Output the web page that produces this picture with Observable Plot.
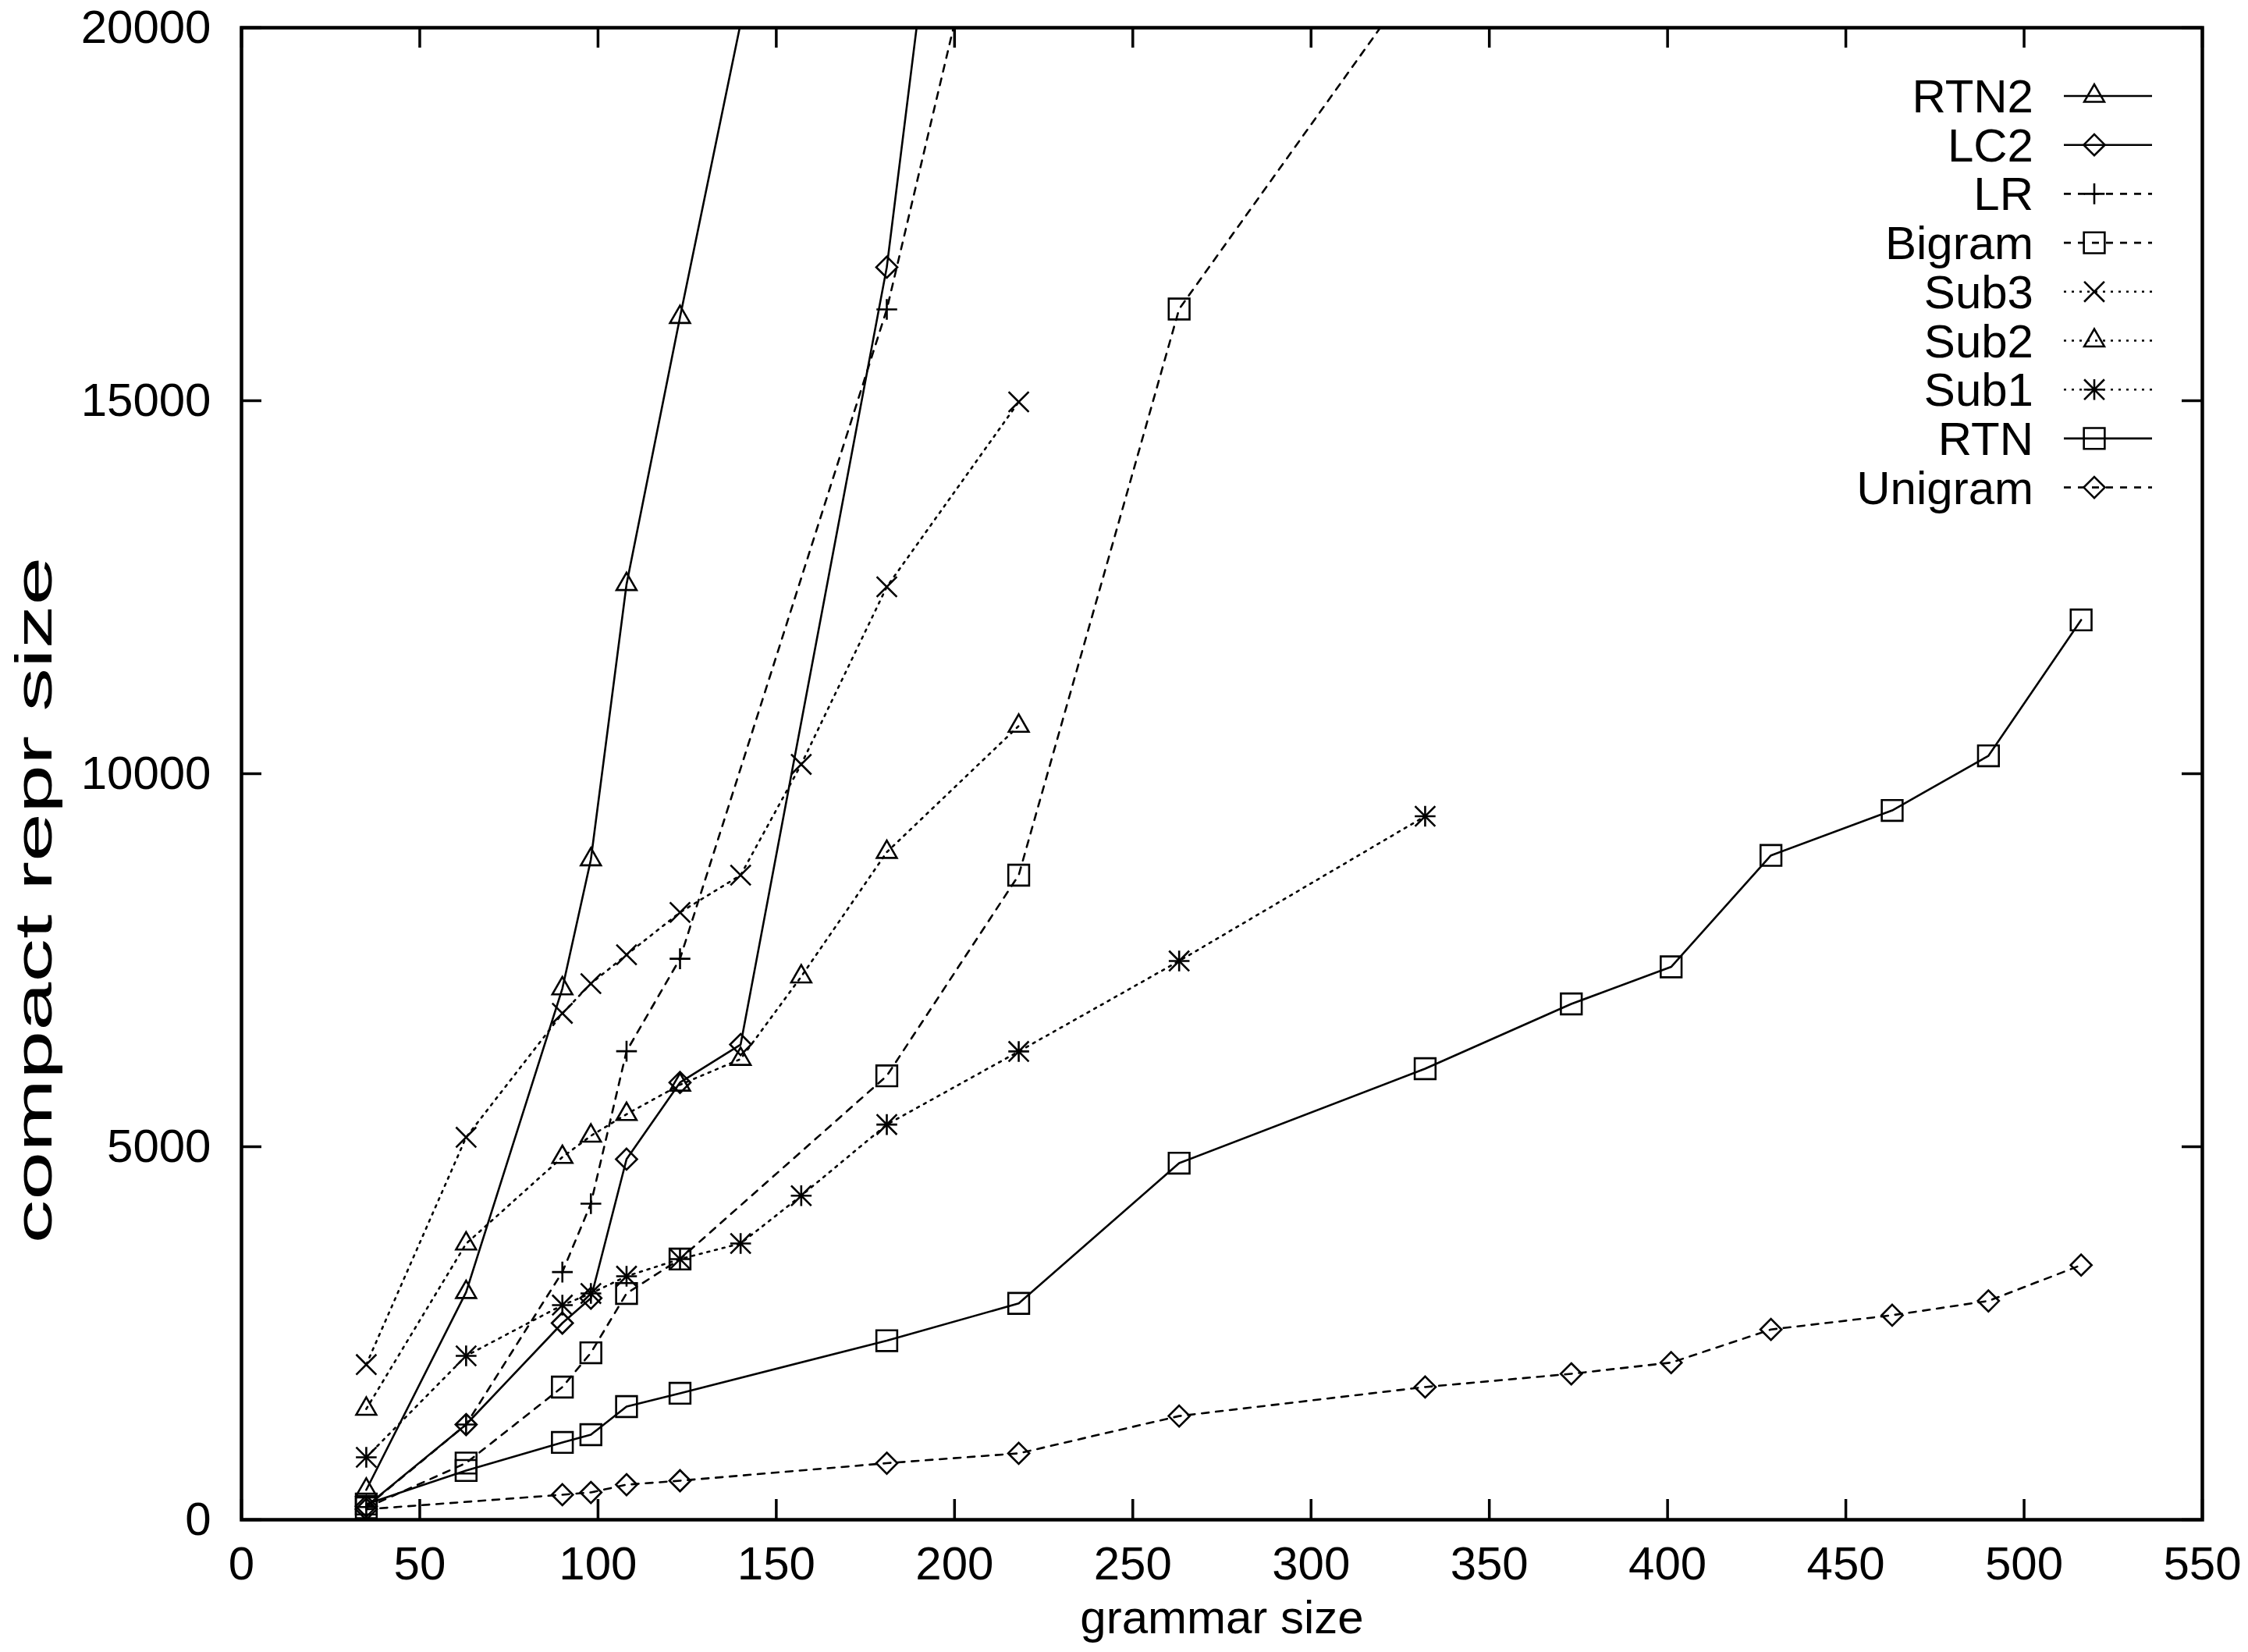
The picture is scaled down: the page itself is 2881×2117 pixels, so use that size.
<!DOCTYPE html>
<html><head><meta charset="utf-8">
<script src="https://cdn.jsdelivr.net/npm/d3@7"></script>
<script src="https://cdn.jsdelivr.net/npm/@observablehq/plot@0.6"></script>
<style>html,body{margin:0;padding:0;background:#fff;}</style>
</head><body><div id="chart"></div>
<script>
// ---- data (grammar size -> compact representation size) ----
const rtn2X = [35, 63, 90, 98, 108, 123, 157];
const rtn2Y = [400, 3050, 7120, 8850, 12540, 16120, 24000];
const lc2X = [35, 63, 90, 98, 108, 123, 140, 181, 218];
const lc2Y = [180, 1276, 2636, 2970, 4833, 5861, 6370, 16790, 31000];
const lrX = [35, 63, 90, 98, 108, 123, 181, 218];
const lrY = [170, 1276, 3320, 4236, 6280, 7520, 16224, 23700];
const bigramX = [35, 63, 90, 98, 108, 123, 181, 218, 263, 332];
const bigramY = [160, 760, 1778, 2238, 3033, 3494, 5950, 8640, 16229, 20840];
const sub3X = [35, 63, 90, 98, 108, 123, 140, 157, 181, 218];
const sub3Y = [2080, 5126, 6788, 7186, 7573, 8141, 8640, 10125, 12505, 14984];
const sub2X = [35, 63, 90, 98, 108, 123, 140, 157, 181, 218];
const sub2Y = [1485, 3700, 4860, 5146, 5436, 5830, 6175, 7280, 8949, 10640];
const sub1X = [35, 63, 90, 98, 108, 123, 140, 157, 181, 218, 263, 332];
const sub1Y = [837, 2197, 2877, 3033, 3264, 3494, 3703, 4344, 5297, 6277, 7490, 9430];
const rtnX = [35, 63, 90, 98, 108, 123, 181, 218, 263, 332, 373, 401, 429, 463, 490, 516];
const rtnY = [210, 660, 1036, 1140, 1517, 1695, 2400, 2900, 4780, 6046, 6914, 7411, 8905, 9508, 10240, 12061];
const unigramX = [35, 90, 98, 108, 123, 181, 218, 263, 332, 373, 401, 429, 463, 490, 516];
const unigramY = [140, 335, 366, 470, 523, 758, 890, 1390, 1779, 1956, 2106, 2550, 2741, 2933, 3413];

const seriesNames = ["RTN2", "LC2", "LR", "Bigram", "Sub3", "Sub2", "Sub1", "RTN", "Unigram"];
const xTicks = [0, 50, 100, 150, 200, 250, 300, 350, 400, 450, 500, 550];
const yTicks = [0, 5000, 10000, 15000, 20000];
const xLabel = "grammar size";
const yLabel = "compact repr size";

// ---- styles ----
const lineKind = ["solid", "solid", "dashed", "dashed", "dotted", "dotted", "dotted", "solid", "dashed"];
const symbolsOf = [["triangle2"], ["diamond2"], ["plus"], ["square2"], ["times"], ["triangle2"], ["plus", "times"], ["square2"], ["diamond2"]];
const dashes = {solid: null, dashed: "9,9", dotted: "3,7"};
const symR = {triangle2: 12.3, diamond2: 12.2, square2: 17, times: 11.8, plus: 8.6};
const d3Sym = {triangle2: d3.symbolTriangle2, diamond2: d3.symbolDiamond2, square2: d3.symbolSquare2, times: d3.symbolTimes, plus: d3.symbolPlus};
const SW = 2.6;

const allX = [rtn2X, lc2X, lrX, bigramX, sub3X, sub2X, sub1X, rtnX, unigramX];
const allY = [rtn2Y, lc2Y, lrY, bigramY, sub3Y, sub2Y, sub1Y, rtnY, unigramY];

const W = 2881, H = 2117;
const mL = 309, mR = 59, mT = 35, mB = 170;
const plotW = W - mL - mR, plotH = H - mT - mB;

const marks = [];
seriesNames.forEach((name, i) => {
  const data = allX[i].map((x, j) => ({x, y: allY[i][j]}));
  marks.push(Plot.line(data, {x: "x", y: "y", stroke: "black", strokeWidth: SW, strokeDasharray: dashes[lineKind[i]], clip: true}));
  for (const s of symbolsOf[i]) {
    marks.push(Plot.dot(data, {x: "x", y: "y", symbol: s, r: symR[s], stroke: "black", fill: "none", strokeWidth: SW, clip: true}));
  }
});

// inward ticks on all four sides
marks.push(Plot.ruleX(xTicks, {x: d => d, insetTop: plotH - 26, stroke: "black", strokeWidth: 3.5}));
marks.push(Plot.ruleX(xTicks, {x: d => d, insetBottom: plotH - 26, stroke: "black", strokeWidth: 3.5}));
marks.push(Plot.ruleY(yTicks, {y: d => d, insetRight: plotW - 26, stroke: "black", strokeWidth: 3.5}));
marks.push(Plot.ruleY(yTicks, {y: d => d, insetLeft: plotW - 26, stroke: "black", strokeWidth: 3.5}));
marks.push(Plot.frame({stroke: "black", strokeWidth: 4.5}));

marks.push(Plot.axisX(xTicks, {tickSize: 0, tickPadding: 34, fontSize: 60, label: null, tickFormat: d3.format("d")}));
marks.push(Plot.axisY(yTicks, {tickSize: 0, tickPadding: 39, fontSize: 60, label: null, tickFormat: d3.format("d")}));
marks.push(Plot.text([xLabel], {text: d => d, frameAnchor: "bottom", dy: 145, fontSize: 60}));
marks.push(Plot.text([yLabel], {text: d => d, frameAnchor: "left", textAnchor: "middle", rotate: -90, dx: -265, dy: 162, fontSize: 66, className: "ylab"}));

// legend inside the frame, gnuplot style
function legendMark(index, scales, values, dimensions) {
  const right = dimensions.width - dimensions.marginRight;
  const g = d3.create("svg:g").attr("font-size", 60).attr("fill", "black");
  seriesNames.forEach((name, i) => {
    const y = dimensions.marginTop + 88 + i * 62.7;
    g.append("text").attr("x", right - 216).attr("y", y).attr("dy", "0.35em")
      .attr("text-anchor", "end").text(name);
    g.append("line").attr("x1", right - 177).attr("x2", right - 64).attr("y1", y).attr("y2", y)
      .attr("stroke", "black").attr("stroke-width", SW)
      .attr("stroke-dasharray", dashes[lineKind[i]]);
    for (const s of symbolsOf[i]) {
      g.append("path").attr("transform", `translate(${right - 138},${y})`)
        .attr("d", d3.symbol(d3Sym[s], Math.PI * symR[s] * symR[s])())
        .attr("fill", "none").attr("stroke", "black").attr("stroke-width", SW);
    }
  });
  return g.node();
}
marks.push(legendMark);

const chart = Plot.plot({
  width: W, height: H,
  marginLeft: mL, marginRight: mR, marginTop: mT, marginBottom: mB,
  x: {domain: [0, 550], axis: null},
  y: {domain: [0, 20000], axis: null},
  style: {fontFamily: "'Liberation Sans', Arial, Helvetica, sans-serif", fontSize: "60px", background: "white", color: "black"},
  marks
});
// the reference's rotated axis title is stretched along its length
d3.select(chart).selectAll(".ylab text").attr("textLength", 880).attr("lengthAdjust", "spacingAndGlyphs");
document.getElementById("chart").appendChild(chart);
</script></body></html>
